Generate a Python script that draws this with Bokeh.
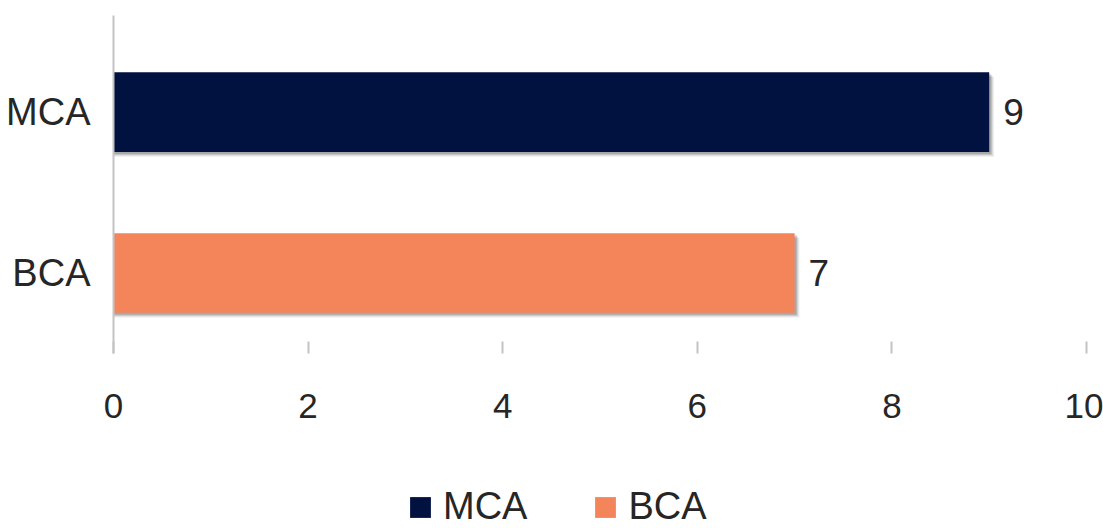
from bokeh.plotting import figure
from bokeh.layouts import column
from bokeh.models import Range1d, FixedTicker, ColumnDataSource, LabelSet, Legend, LegendItem
from bokeh.core.properties import value
from bokeh.transform import dodge
from bokeh.embed import file_html
from bokeh.resources import INLINE

categories = ["BCA", "MCA"]
values = [7, 9]
colors = ["#F4845A", "#011140"]
x_ticks = [0, 2, 4, 6, 8, 10]

FONT = "Liberation Sans"
TXT = "#262626"

pos = [i + 0.5 for i in range(len(categories))]
src = ColumnDataSource(dict(y=pos, v=values, c=colors, lab=[str(v) for v in values], cat=categories))

p = figure(width=1103, height=470, output_backend="svg", toolbar_location=None,
           x_range=Range1d(0, 10), y_range=Range1d(0, 2.1),
           min_border_left=113, min_border_right=17, min_border_top=15, min_border_bottom=117)
p.outline_line_color = None
p.grid.grid_line_color = None
p.background_fill_color = "white"

# soft drop shadow (pixel offsets converted to data units)
dx = 10 / 973.0
dy = 2.1 / 338.0
for k, a in [(5, 0.05), (4, 0.08), (3, 0.11), (2, 0.15)]:
    p.hbar(y=dodge("y", -k * dy), right=dodge("v", k * dx), left=0, height=0.495,
           source=src, fill_color="#000000", fill_alpha=a, line_color=None)

p.hbar(y="y", right="v", left=0, height=0.495, source=src, fill_color="c", line_color=None)

labels = LabelSet(x="v", y="y", text="lab", source=src, x_offset=14, text_baseline="middle",
                  text_font=value(FONT), text_font_size="37px", text_color=TXT)
p.add_layout(labels)

# x axis
xa = p.xaxis[0]
xa.ticker = FixedTicker(ticks=x_ticks)
xa.axis_line_color = None
xa.major_tick_in = 12
xa.major_tick_out = 0
xa.major_tick_line_color = "#c4c4c4"
xa.major_tick_line_width = 2
xa.minor_tick_line_color = None
xa.major_label_standoff = 40
xa.major_label_text_font = FONT
xa.major_label_text_font_size = "35px"
xa.major_label_text_color = TXT

# y axis
ya = p.yaxis[0]
ya.ticker = FixedTicker(ticks=pos)
ya.major_label_overrides = {pos[i]: categories[i] for i in range(len(categories))}
ya.axis_line_color = "#c4c4c4"
ya.axis_line_width = 2
ya.major_tick_line_color = None
ya.minor_tick_line_color = None
ya.major_label_standoff = 17
ya.major_label_text_font = FONT
ya.major_label_text_font_size = "38px"
ya.major_label_text_color = TXT

# legend in its own strip (legend renderers hold the series but sit outside the strip's range)
lf = figure(width=1103, height=58, output_backend="svg", toolbar_location=None,
            x_range=Range1d(0, 1), y_range=Range1d(0, 1),
            min_border_left=113, min_border_right=17, min_border_top=0, min_border_bottom=0)
lf.axis.visible = False
lf.grid.grid_line_color = None
lf.outline_line_color = None
items = []
for i in [1, 0]:
    s = ColumnDataSource(dict(y=[pos[i] - 50], v=[values[i]]))
    r = lf.hbar(y="y", right="v", left=0, height=0.5, source=s, fill_color=colors[i], line_color=None)
    items.append(LegendItem(label=categories[i], renderers=[r]))

legend = Legend(items=items, orientation="horizontal", location=(294, 0),
                glyph_width=26, glyph_height=26, label_standoff=10, spacing=65,
                label_text_font=FONT, label_text_font_size="38px", label_text_color=TXT,
                border_line_color=None, background_fill_alpha=0, padding=0, margin=0)
lf.add_layout(legend, "center")

layout = column(p, lf, spacing=0)
open("out.html", "w").write(file_html(layout, INLINE))
